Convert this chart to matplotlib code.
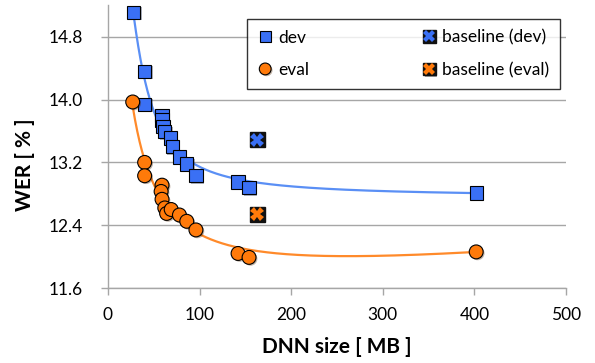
import numpy as np
import matplotlib
matplotlib.use('Agg')
import matplotlib.pyplot as plt
import matplotlib.patheffects as pe

plt.rcParams['font.family'] = ['Lato', 'DejaVu Sans']

# WER of the DNN models against model size
dev_size = [28, 40, 40, 59, 59, 60, 62, 68, 70, 78, 86, 96, 142, 154, 402]
dev_wer = [15.11, 14.36, 13.94, 13.80, 13.74, 13.66, 13.59, 13.51, 13.40,
           13.27, 13.18, 13.03, 12.95, 12.88, 12.81]
eval_size = [27, 40, 40, 59, 58, 59, 62, 64, 69, 78, 86, 96, 142, 154, 402]
eval_wer = [13.97, 13.20, 13.03, 12.91, 12.83, 12.73, 12.62, 12.55, 12.60,
            12.53, 12.45, 12.34, 12.04, 11.99, 12.06]

baseline_size = [163]
baseline_dev = [13.49]
baseline_eval = [12.54]

xticks = [0, 100, 200, 300, 400, 500]
yticks = [11.6, 12.4, 13.2, 14.0, 14.8]

blue = '#3a70f5'
orange = '#ff7a0a'
line_blue = '#5a8ff5'
line_orange = '#ff8a2a'
grey = '#a6a6a6'


def trend(x, y, xs, last=(lambda v: v)):
    # weighted least squares on 1, 1/x, 1/x^2 and one extra term,
    # pinned near the largest model
    def basis(v):
        return np.column_stack([np.ones_like(v), 1 / v, 1 / v ** 2, last(v)])
    x = np.asarray(x, float)
    y = np.asarray(y, float)
    w = np.ones_like(x)
    w[np.argmax(x)] = 10
    coef, *_ = np.linalg.lstsq(basis(x) * w[:, None], y * w, rcond=None)
    return basis(xs) @ coef


fig = plt.figure(figsize=(5.95, 3.63), dpi=100)
ax = fig.add_axes([0.1815, 0.2066, 0.7697, 0.7785])

shadow = [pe.SimplePatchShadow(offset=(1, -1), alpha=0.35), pe.Normal()]

xs = np.linspace(min(dev_size), max(dev_size), 300)
ax.plot(xs, trend(dev_size, dev_wer, xs, last=lambda v: 1 / v ** 3),
        color=line_blue, lw=1.6, zorder=2)
xs = np.linspace(min(eval_size), max(eval_size), 300)
ax.plot(xs, trend(eval_size, eval_wer, xs), color=line_orange, lw=1.6, zorder=2)

h_dev, = ax.plot(dev_size, dev_wer, 's', ms=9.5, mfc=blue, mec='black', mew=0.8,
                 label='dev', zorder=3, path_effects=shadow)
h_eval, = ax.plot(eval_size, eval_wer, 'o', ms=10, mfc=orange, mec='black', mew=0.8,
                  label='eval', zorder=3, path_effects=shadow)

bd_sq, = ax.plot(baseline_size, baseline_dev, 's', ms=10.5, mfc='#111111', mec='#111111',
                 zorder=4, path_effects=shadow)
bd_x, = ax.plot(baseline_size, baseline_dev, 'X', ms=10, mfc=blue, mec=blue, mew=0, zorder=5)
be_sq, = ax.plot(baseline_size, baseline_eval, 's', ms=10.5, mfc='#111111', mec='#111111',
                 zorder=4, path_effects=shadow)
be_x, = ax.plot(baseline_size, baseline_eval, 'X', ms=10, mfc=orange, mec=orange, mew=0, zorder=5)

ax.set_xlim(0, 500)
ax.set_ylim(11.6, 15.2)
ax.set_xticks(xticks)
ax.set_yticks(yticks)
ax.set_yticklabels([f'{v:.1f}' for v in yticks])
ax.yaxis.grid(True, color=grey, lw=1)
ax.set_axisbelow(True)

for s in ['top', 'right']:
    ax.spines[s].set_visible(False)
for s in ['left', 'bottom']:
    ax.spines[s].set_color(grey)
    ax.spines[s].set_linewidth(1)
ax.tick_params(axis='both', colors=grey, labelcolor='black', labelsize=12.5,
               length=5, width=1, direction='out')
ax.tick_params(axis='x', pad=9)
ax.tick_params(axis='y', pad=13)

ax.set_xlabel('DNN size [ MB ]', fontsize=15, fontweight='bold')
ax.set_ylabel('WER [ % ]', fontsize=15, fontweight='bold')
ax.xaxis.set_label_coords(0.5, -0.209)
ax.yaxis.set_label_coords(-0.181, 0.435)
ax.xaxis.label.set_va('center')
ax.yaxis.label.set_va('center')

leg = ax.legend([h_dev, h_eval, (bd_sq, bd_x), (be_sq, be_x)],
                ['dev', 'eval', 'baseline (dev)', 'baseline (eval)'],
                ncol=2, loc='upper left', bbox_to_anchor=(0.3035, 0.69, 0.6835, 0.262),
                mode='expand', fontsize=12.5, frameon=True, fancybox=False,
                edgecolor='black', handlelength=0.9, handletextpad=0.3,
                labelspacing=0.95, borderpad=0.6, borderaxespad=0, markerscale=0.85)
leg.get_frame().set_linewidth(1)

fig.savefig('out.png', dpi=100)
